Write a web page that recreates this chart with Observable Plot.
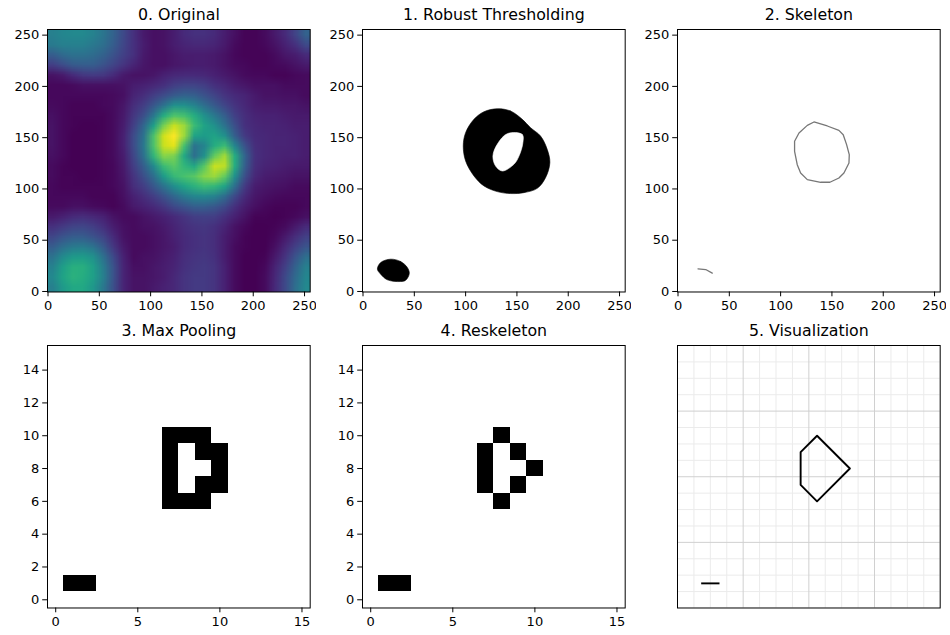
<!DOCTYPE html>
<html><head><meta charset="utf-8">
<script src="https://cdn.jsdelivr.net/npm/d3@7"></script>
<script src="https://cdn.jsdelivr.net/npm/@observablehq/plot@0.6"></script>
<style>
html,body{margin:0;padding:0;background:#fff;width:950px;height:635px;overflow:hidden}
#fig{position:relative;width:950px;height:635px}
#fig>div{position:absolute}
svg{display:block;background:#fff}
</style></head><body><div id="fig"></div>
<script>
const titles = ["0. Original","1. Robust Thresholding","2. Skeleton","3. Max Pooling","4. Reskeleton","5. Visualization"];
const imageTicks = [0,50,100,150,200,250];
const poolXTicks = [0,5,10,15];
const poolYTicks = [0,2,4,6,8,10,12,14];
// 26x26 intensity samples (percent), rows from top (y=255) to bottom (y=0)
const original = [
 [43,46,47,47,44,39,31,22,14,7,4,5,8,12,14,14,12,8,4,1,1,3,7,12,20,31],
 [41,43,43,43,40,36,29,21,14,8,4,5,8,10,11,11,10,7,3,1,1,2,5,9,14,22],
 [29,34,37,37,35,31,25,19,14,7,4,4,6,8,8,8,7,5,2,1,1,1,3,6,8,12],
 [18,23,28,29,29,25,20,15,10,6,4,4,6,7,8,8,7,5,3,2,1,1,2,3,5,7],
 [5,7,12,16,17,16,12,7,5,5,6,9,11,12,12,11,9,7,5,3,2,2,1,1,2,3],
 [2,2,3,4,4,4,4,5,8,9,11,14,18,20,20,18,14,11,8,6,4,4,4,3,3,3],
 [2,2,2,2,2,2,3,4,10,13,18,23,28,31,30,25,20,15,12,10,7,5,5,4,4,3],
 [3,2,1,1,1,2,3,6,13,18,27,38,50,50,45,36,28,21,15,11,8,7,7,6,6,5],
 [4,2,1,1,1,1,3,7,16,24,40,62,72,70,62,50,40,30,19,13,10,9,9,8,7,7],
 [5,2,1,0,0,1,3,8,19,33,57,80,92,85,68,58,50,38,24,14,11,10,10,9,8,8],
 [5,2,0,0,0,1,3,9,23,38,72,93,100,85,58,55,58,50,30,17,12,11,10,10,9,8],
 [5,2,0,0,0,1,3,9,23,40,72,92,96,70,38,45,62,68,46,25,13,11,10,10,9,8],
 [4,2,0,0,0,1,3,8,21,37,66,82,80,60,36,50,76,86,62,32,14,11,10,9,9,8],
 [3,1,0,0,0,1,2,7,18,30,48,68,74,66,60,74,92,90,62,30,13,10,9,8,7,7],
 [3,1,1,0,0,1,2,6,15,24,36,55,67,71,74,82,85,76,50,24,11,8,7,6,5,5],
 [2,1,1,1,1,1,2,5,13,18,27,38,49,58,64,68,66,58,36,17,8,6,5,4,3,3],
 [2,2,2,2,1,1,1,4,9,13,18,25,33,41,46,47,44,35,22,12,6,4,3,2,2,2],
 [3,3,4,4,3,2,1,3,7,9,12,16,22,26,30,30,27,22,14,8,4,2,1,1,1,2],
 [7,9,12,13,11,9,5,3,3,5,7,9,12,15,18,19,18,14,9,5,1,1,0,1,2,4],
 [14,17,20,21,18,14,8,4,3,4,5,7,10,13,15,16,14,10,5,2,0,0,1,3,7,12],
 [21,26,29,29,25,20,12,5,3,3,4,6,9,12,14,15,13,8,4,1,0,0,2,7,13,19],
 [29,36,41,42,38,28,16,7,3,3,4,6,8,12,14,15,13,8,3,1,0,0,4,11,19,26],
 [38,48,54,55,50,37,22,9,3,4,5,7,9,13,15,16,14,8,3,0,0,1,7,15,26,36],
 [44,56,63,63,56,42,25,10,4,4,6,8,10,14,16,17,15,9,3,0,0,2,10,19,31,43],
 [47,58,64,62,56,43,25,10,5,5,6,8,11,15,17,17,15,9,3,0,0,3,11,22,34,46],
 [43,54,60,60,53,40,24,10,5,5,7,9,11,15,17,17,15,9,3,0,0,3,12,22,36,47]
];
const ringOuterX = [130.8,143.8,155.2,163.3,173,179.5,182.1,177.9,169.8,156.8,143.8,130.8,117.9,108.1,100,97.7,100,108.1,117.9];
const ringOuterY = [178.2,176,167.9,159.7,151.6,138.6,125.6,111,100.6,96.4,95.5,97.4,102.9,112.7,127.3,141.9,154.9,167.9,175.3];
const holeX = [140.6,155.2,155.8,152,147,135.7,129.2,126.6,130.8];
const holeY = [153.9,153.2,145.1,132.1,124,117.5,122.4,132.1,143.5];
const spotX = [26.9,36.7,43.2,45.1,41.6,36.7,23.7,17.2,14,17.2];
const spotY = [31.5,29.2,23.4,17.5,11,9.7,11.4,16.9,21.8,28.2];
const skelX = [132.5,145.5,156.8,161,164.3,166.9,166.6,161.7,156.8,148,139,126,119.5,116.2,113.6,113.6,117.9,126];
const skelY = [165.3,161.4,157.1,152.9,143.2,133.4,125.3,115.6,110.7,106.5,106.5,109.1,115.6,123.7,136.7,146.5,154.6,162];
const skelShortX = [19.5,27,33.4];
const skelShortY = [22.1,21.4,17.9];
const pooled = [[7,10],[8,10],[9,10],[7,9],[9,9],[10,9],[7,8],[10,8],[7,7],[9,7],[10,7],[7,6],[8,6],[9,6],[1,1],[2,1]];
const reskel = [[8,10],[7,9],[9,9],[7,8],[10,8],[7,7],[9,7],[8,6],[1,1],[2,1]];
const polyX = [8.5,10.5,8.5,7.5,7.5,8.5];
const polyY = [10.5,8.5,6.5,7.5,9.5,10.5];
const segX = [1.5,2.5];
const segY = [1.5,1.5];
const majorGrid = [4,8,12];
const minorGrid = [1,2,3,5,6,7,9,10,11,13,14,15];

const pts = (xs, ys) => xs.map((x,i)=>({x, y:ys[i]}));
const fig = document.getElementById("fig");
const W = 262.7, H = 262.5;
const lefts = [47, 362.2, 677.3], tops = [28.5, 345];

function panel(idx, domain, xt, yt, marks){
  const col = idx%3, row = Math.floor(idx/3);
  const ml = 45, mt = 28, mb = 28, mr = 6;
  const el = Plot.plot({
    width: W+ml+mr, height: H+mt+mb,
    marginLeft: ml, marginRight: mr, marginTop: mt, marginBottom: mb,
    style: {fontFamily:"'DejaVu Sans'", fontSize:"13px", color:"#000", background:"#fff"},
    x: {domain, label:null, axis:null},
    y: {domain, label:null, axis:null},
    color: {type:"linear", scheme:"viridis", domain:[0,100]},
    marks: [
      ...marks,
      Plot.frame({stroke:"#000", strokeWidth:1}),
      ...(xt ? [Plot.axisX({ticks:xt, tickSize:4.8, tickPadding:3.5, tickFormat:d=>String(d), label:null, strokeWidth:1, fontSize:13})] : []),
      ...(yt ? [Plot.axisY({ticks:yt, tickSize:4.8, tickPadding:3.5, tickFormat:d=>String(d), label:null, strokeWidth:1, fontSize:13})] : []),
      Plot.text([titles[idx]], {frameAnchor:"top", dy:-15, lineAnchor:"middle", fontSize:15.8, fill:"#000"})
    ]
  });
  const d = document.createElement("div");
  d.style.left = (lefts[col]-ml)+"px";
  d.style.top = (tops[row]-mt)+"px";
  d.appendChild(el);
  fig.appendChild(d);
}
const imgDomain = [-0.5,255.5], gridDomain = [-0.5,15.5], visDomain = [0,16];
const cellRect = c => Plot.rect(c, {x1:d=>d[0]-.5, x2:d=>d[0]+.5, y1:d=>d[1]-.5, y2:d=>d[1]+.5, fill:"#000", shapeRendering:"crispEdges"});

panel(0, imgDomain, imageTicks, imageTicks, [
  Plot.raster(original.flat(), {width:26, height:26, x1:-0.5, x2:255.5, y1:255.5, y2:-0.5, fill:d=>d, imageRendering:"auto"})
]);
const blob = (xs,ys,fill)=>Plot.line(pts(xs,ys), {x:"x", y:"y", fill, stroke:fill, strokeWidth:.6, curve:"catmull-rom-closed"});
panel(1, imgDomain, imageTicks, imageTicks, [
  blob(ringOuterX, ringOuterY, "#000"), blob(holeX, holeY, "#fff"), blob(spotX, spotY, "#000")
]);
panel(2, imgDomain, imageTicks, imageTicks, [
  Plot.line(pts(skelX,skelY), {x:"x", y:"y", stroke:"#777", strokeWidth:1.3, curve:"linear-closed"}),
  Plot.line(pts(skelShortX,skelShortY), {x:"x", y:"y", stroke:"#777", strokeWidth:1.3})
]);
panel(3, gridDomain, poolXTicks, poolYTicks, [cellRect(pooled)]);
panel(4, gridDomain, poolXTicks, poolYTicks, [cellRect(reskel)]);
panel(5, visDomain, null, null, [
  Plot.ruleX(minorGrid, {stroke:"#ebebeb", strokeWidth:1}),
  Plot.ruleY(minorGrid, {stroke:"#ebebeb", strokeWidth:1}),
  Plot.ruleX(majorGrid, {stroke:"#d0d0d0", strokeWidth:1}),
  Plot.ruleY(majorGrid, {stroke:"#d0d0d0", strokeWidth:1}),
  Plot.line(pts(polyX,polyY), {x:"x", y:"y", stroke:"#000", strokeWidth:1.9, strokeLinejoin:"round"}),
  Plot.line(pts(segX,segY), {x:"x", y:"y", stroke:"#000", strokeWidth:1.9, strokeLinecap:"square"})
]);
</script></body></html>
